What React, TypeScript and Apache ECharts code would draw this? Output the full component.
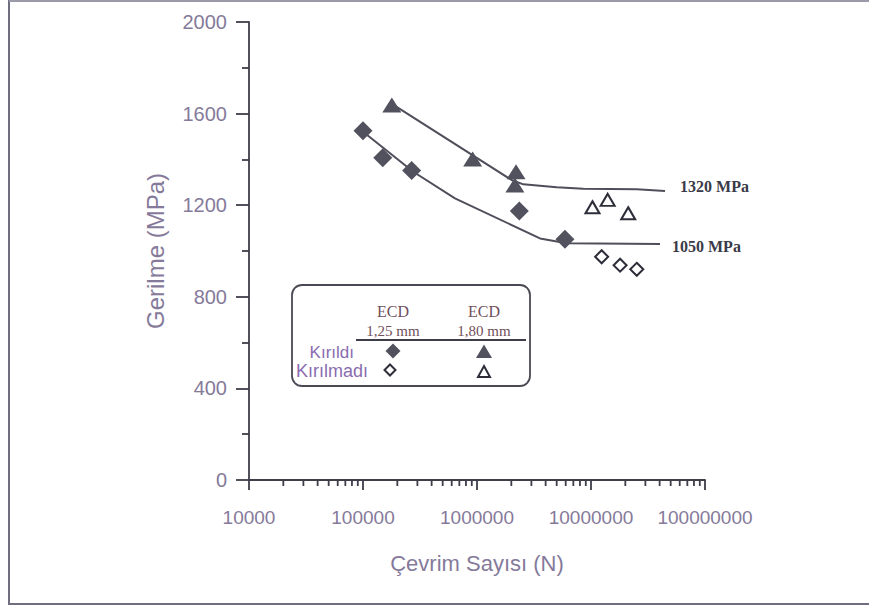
import React, { useEffect, useRef } from "react";
import * as echarts from "echarts";

// ---- data ----
const xTickLabels = ["10000", "100000", "1000000", "10000000", "100000000"];
const yTicks = [0, 400, 800, 1200, 1600, 2000];

// ECD 1,25 mm — Kırıldı (filled diamonds)
const d125BrokenN = [100000, 149000, 267000, 2350000, 5910000];
const d125BrokenS = [1525, 1407, 1351, 1175, 1051];
// ECD 1,25 mm — Kırılmadı (open diamonds)
const d125RunoutN = [12400000, 18000000, 25200000];
const d125RunoutS = [975, 938, 920];
// ECD 1,80 mm — Kırıldı (filled triangles)
const d180BrokenN = [179000, 916000, 2200000, 2150000];
const d180BrokenS = [1638, 1402, 1346, 1288];
// ECD 1,80 mm — Kırılmadı (open triangles)
const d180RunoutN = [10300000, 14000000, 21200000];
const d180RunoutS = [1191, 1223, 1165];

// S-N curves
const upperCurveN = [185000, 2010000, 2550000, 5000000, 8550000, 25200000, 44600000];
const upperCurveS = [1638, 1310, 1291, 1278, 1272, 1270, 1262];
const lowerCurveN = [104000, 276000, 641000, 3570000, 6120000, 40300000];
const lowerCurveS = [1514, 1346, 1230, 1055, 1034, 1031];

const curveLabels = ["1320 MPa", "1050 MPa"];

// minor tick positions of the log axis
const xMinorTicks = [
  20000, 30000, 40000, 50000, 60000, 70000, 80000, 90000,
  200000, 300000, 400000, 500000, 600000, 700000, 800000, 900000,
  2000000, 3000000, 4000000, 5000000, 6000000, 7000000, 8000000, 9000000,
  20000000, 30000000, 40000000, 50000000, 60000000, 70000000, 80000000, 90000000,
];

const zip = (a: number[], b: number[]) => a.map((v, i) => [v, b[i]]);

const AXIS = "#3e3e4a";
const LABEL = "#857a9a";
const MARK = "#52525e";

export default function App() {
  const ref = useRef<HTMLDivElement>(null);
  useEffect(() => {
    if (!ref.current) return;
    const chart = echarts.init(ref.current, null, { renderer: "svg" });
    const legendText = (text: string, x: number, y: number, opts: any = {}) => ({
      type: "text",
      x,
      y,
      z: 20,
      style: {
        text,
        fill: opts.fill || "#70505a",
        font: opts.font || "16px 'Liberation Serif'",
        align: opts.align || "center",
        verticalAlign: "middle",
      },
    });
    chart.setOption({
      animation: false,
      backgroundColor: "#ffffff",
      grid: { left: 249, right: 164, top: 22, bottom: 127, containLabel: false },
      xAxis: {
        type: "log",
        logBase: 10,
        min: 10000,
        max: 100000000,
        name: "Çevrim Sayısı (N)",
        nameLocation: "middle",
        nameGap: 72,
        nameTextStyle: { color: LABEL, fontSize: 22, fontFamily: "Liberation Sans" },
        axisLine: { show: true, onZero: false, lineStyle: { color: AXIS, width: 1.8 } },
        axisTick: { show: true, length: 10, lineStyle: { color: AXIS, width: 1.8 } },
        axisLabel: {
          color: LABEL,
          fontSize: 19,
          fontFamily: "Liberation Sans",
          margin: 28,
          showMinLabel: true,
          showMaxLabel: true,
          formatter: (v: number) => xTickLabels[Math.round(Math.log10(v)) - 4] ?? "",
        },
        splitLine: { show: false },
      },
      yAxis: {
        type: "value",
        min: 0,
        max: 2000,
        interval: 400,
        name: "Gerilme (MPa)",
        nameLocation: "middle",
        nameGap: 82,
        nameTextStyle: { color: LABEL, fontSize: 24, fontFamily: "Liberation Sans" },
        axisLine: { show: true, onZero: false, lineStyle: { color: AXIS, width: 1.8 } },
        axisTick: { show: true, length: 13, lineStyle: { color: AXIS, width: 1.8 } },
        minorTick: { show: true, splitNumber: 2, length: 7, lineStyle: { color: AXIS, width: 1.8 } },
        axisLabel: {
          color: LABEL,
          fontSize: 20,
          fontFamily: "Liberation Sans",
          margin: 22,
          formatter: (v: number) => (yTicks.includes(v) ? String(v) : ""),
        },
        splitLine: { show: false },
      },
      series: [
        {
          type: "custom",
          silent: true,
          clip: false,
          data: xMinorTicks.map((v) => [v, 0]),
          renderItem: (_p: any, api: any) => {
            const p = api.coord([api.value(0), 0]);
            return {
              type: "line",
              shape: { x1: p[0], y1: p[1], x2: p[0], y2: p[1] + 6 },
              style: { stroke: AXIS, lineWidth: 1.8 },
            };
          },
          z: 1,
        },
        {
          type: "line",
          data: zip(upperCurveN, upperCurveS),
          showSymbol: false,
          symbol: "none",
          lineStyle: { color: "#4f4f5c", width: 2 },
          endLabel: {
            show: true,
            formatter: curveLabels[0],
            fontFamily: "Liberation Serif",
            fontWeight: "bold",
            fontSize: 16,
            color: "#3a3a48",
            distance: 15,
            offset: [0, -5],
          },
          z: 2,
        },
        {
          type: "line",
          data: zip(lowerCurveN, lowerCurveS),
          showSymbol: false,
          symbol: "none",
          lineStyle: { color: "#4f4f5c", width: 2 },
          endLabel: {
            show: true,
            formatter: curveLabels[1],
            fontFamily: "Liberation Serif",
            fontWeight: "bold",
            fontSize: 16,
            color: "#3a3a48",
            distance: 12,
            offset: [0, 3],
          },
          z: 2,
        },
        {
          type: "scatter",
          data: zip(d125BrokenN, d125BrokenS),
          symbol: "diamond",
          symbolSize: [19, 19],
          itemStyle: { color: MARK, opacity: 1 },
          z: 3,
        },
        {
          type: "scatter",
          data: zip(d180BrokenN, d180BrokenS),
          symbol: "triangle",
          symbolSize: [19, 15],
          itemStyle: { color: MARK, opacity: 1 },
          z: 3,
        },
        {
          type: "scatter",
          data: zip(d125RunoutN, d125RunoutS),
          symbol: "diamond",
          symbolSize: [13, 13],
          itemStyle: { color: "#ffffff", borderColor: "#2e2e3a", borderWidth: 2, opacity: 1 },
          z: 3,
        },
        {
          type: "scatter",
          data: zip(d180RunoutN, d180RunoutS),
          symbol: "triangle",
          symbolSize: [14, 12],
          itemStyle: { color: "#ffffff", borderColor: "#2e2e3a", borderWidth: 2, opacity: 1 },
          z: 3,
        },
      ],
      graphic: [
        // page frame
        { type: "line", z: 5, shape: { x1: 9, y1: 0, x2: 9, y2: 605 }, style: { stroke: "#6e6e80", lineWidth: 2 } },
        { type: "line", z: 5, shape: { x1: 9, y1: 1, x2: 869, y2: 1 }, style: { stroke: "#9a9aa8", lineWidth: 2 } },
        { type: "line", z: 5, shape: { x1: 9, y1: 604, x2: 869, y2: 604 }, style: { stroke: "#6e6e80", lineWidth: 2 } },
        // legend box
        {
          type: "rect",
          z: 10,
          shape: { x: 292, y: 285, width: 238, height: 101, r: 10 },
          style: { fill: "#ffffff", stroke: "#4a4a55", lineWidth: 1.8 },
        },
        legendText("ECD", 393, 311),
        legendText("ECD", 484, 311),
        legendText("1,25 mm", 393, 331, { font: "15px 'Liberation Serif'" }),
        legendText("1,80 mm", 484, 331, { font: "15px 'Liberation Serif'" }),
        { type: "line", z: 20, shape: { x1: 356, y1: 340, x2: 526, y2: 340 }, style: { stroke: "#3e3e4a", lineWidth: 1.8 } },
        legendText("Kırıldı", 354, 352, { fill: "#8a6cb0", font: "17px 'Liberation Sans'", align: "right" }),
        legendText("Kırılmadı", 368, 371, { fill: "#8a6cb0", font: "18px 'Liberation Sans'", align: "right" }),
        {
          type: "polygon",
          z: 20,
          shape: { points: [[393, 343.5], [400.5, 351], [393, 358.5], [385.5, 351]] },
          style: { fill: MARK },
        },
        {
          type: "polygon",
          z: 20,
          shape: { points: [[484, 344.5], [492, 358], [476, 358]] },
          style: { fill: MARK },
        },
        {
          type: "polygon",
          z: 20,
          shape: { points: [[390, 364.5], [395.5, 370], [390, 375.5], [384.5, 370]] },
          style: { fill: "#ffffff", stroke: "#2e2e3a", lineWidth: 2 },
        },
        {
          type: "polygon",
          z: 20,
          shape: { points: [[484, 366], [490, 377], [478, 377]] },
          style: { fill: "#ffffff", stroke: "#2e2e3a", lineWidth: 2 },
        },
      ],
    });
    return () => chart.dispose();
  }, []);
  return (
    <div
      ref={ref}
      style={{ position: "fixed", left: 0, top: 0, width: 869, height: 607, background: "#fff" }}
    />
  );
}
